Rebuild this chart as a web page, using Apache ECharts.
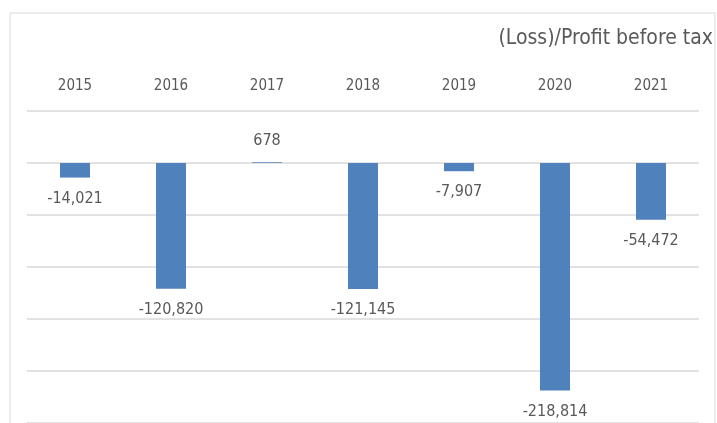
<!DOCTYPE html>
<html>
<head>
<meta charset="utf-8">
<script src="https://cdn.jsdelivr.net/npm/echarts@6/dist/echarts.min.js"></script>
<style>
  html, body { margin: 0; padding: 0; background: #fff; }
  #main { width: 717px; height: 423px; }
</style>
</head>
<body>
<div id="main"></div>
<script>
const chart = echarts.init(document.querySelector('#main'))

const YEARS = ['2015', '2016', '2017', '2018', '2019', '2020', '2021']
const PROFIT = [-14021, -120820, 678, -121145, -7907, -218814, -54472]
const TITLE = '(Loss)/Profit before tax'

const FONT = '"Liberation Sans Narrow", "DejaVu Sans Condensed", sans-serif'
const TEXT_COLOR = '#595959'

function fmt (v) {
  return v.toLocaleString('en-US')
}

let chartOption = {
  animation: false,
  backgroundColor: '#fff',
  title: {
    text: TITLE,
    right: -1,
    top: 23,
    textStyle: {
      fontFamily: FONT,
      fontSize: 21,
      fontWeight: 'normal',
      color: TEXT_COLOR
    }
  },
  graphic: [
    {
      type: 'rect',
      shape: { x: 10, y: 13, width: 705, height: 430 },
      style: { fill: 'none', stroke: '#d9d9d9', lineWidth: 1 },
      z: -1
    }
  ],
  grid: {
    left: 27,
    right: 18,
    top: 111,
    height: 312
  },
  xAxis: {
    type: 'category',
    position: 'top',
    data: YEARS,
    axisLine: { show: false },
    axisTick: { show: false },
    axisLabel: {
      margin: 17,
      fontFamily: FONT,
      fontSize: 15,
      color: TEXT_COLOR
    }
  },
  yAxis: {
    type: 'value',
    min: -250000,
    max: 50000,
    interval: 50000,
    axisLabel: { show: false },
    axisLine: { show: false },
    axisTick: { show: false },
    splitLine: { lineStyle: { color: '#d9d9d9', width: 1.5 } }
  },
  series: [
    {
      type: 'bar',
      barWidth: 30,
      itemStyle: { color: '#4f81bd' },
      data: PROFIT.map(v => ({
        value: v,
        label: { position: v < 0 ? 'bottom' : 'top' }
      })),
      label: {
        show: true,
        distance: 13,
        fontFamily: FONT,
        fontSize: 16,
        color: TEXT_COLOR,
        formatter: p => fmt(p.value)
      }
    }
  ]
}

chart.setOption(chartOption)
</script>
</body>
</html>
